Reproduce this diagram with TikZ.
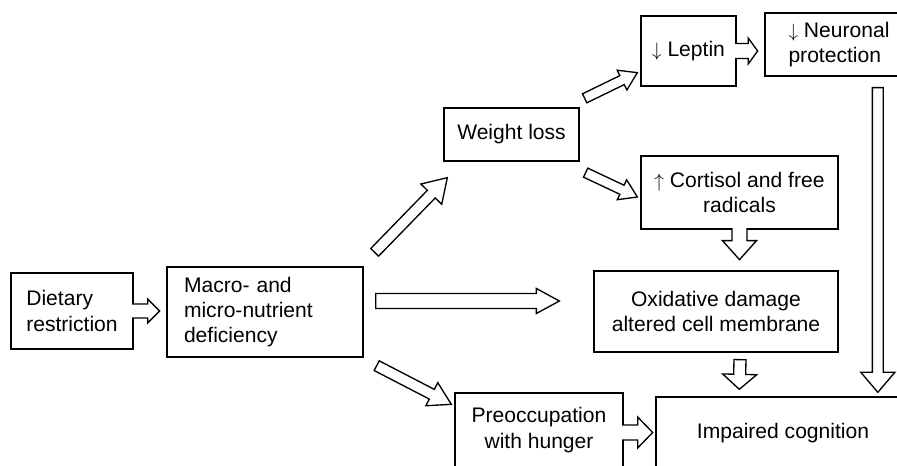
\documentclass[tikz,border=0pt]{standalone}
\usepackage{fontspec}
\setmainfont{Liberation Sans}
\usetikzlibrary{calc}

\newcommand{\boxfont}{\fontsize{15.8}{19}\selectfont}

\tikzset{
	bshaft/.store in=\bShaft,
	bshaft = 4pt,
	bhead/.store in=\bHead,
	bhead = 10pt,
	blen/.store in=\bLen,
	blen = 15pt}
\tikzset{every picture/.style={line width=1pt}}
\tikzset{box/.style={draw, rectangle, inner sep=0pt, font=\boxfont, align=center}}

% block arrow from #2 to #3, closed tail
\newcommand{\blockarrow}[3][]{%
	\begin{scope}[#1]
	\draw [fill=white] ($(#2)!\bShaft!90:(#3)$) -- ($(#3)!\bLen!(#2)!\bShaft!-90:(#2)$) -- ($(#3)!\bLen!(#2)!\bHead!-90:(#2)$) -- (#3) -- ($(#3)!\bLen!(#2)!\bHead!90:(#2)$) -- ($(#3)!\bLen!(#2)!\bShaft!90:(#2)$) -- ($(#2)!\bShaft!-90:(#3)$) -- cycle ;
	\end{scope}}
% block arrow coming out of a box side, open tail
\newcommand{\mergedarrow}[3][]{%
	\begin{scope}[#1]
	\fill [white] ($(#2)!\bShaft!90:(#3)$) -- ($(#3)!\bLen!(#2)!\bShaft!-90:(#2)$) -- ($(#3)!\bLen!(#2)!\bHead!-90:(#2)$) -- (#3) -- ($(#3)!\bLen!(#2)!\bHead!90:(#2)$) -- ($(#3)!\bLen!(#2)!\bShaft!90:(#2)$) -- ($(#2)!\bShaft!-90:(#3)$) -- cycle ;
	\draw ($(#2)!\bShaft!90:(#3)$) -- ($(#3)!\bLen!(#2)!\bShaft!-90:(#2)$) -- ($(#3)!\bLen!(#2)!\bHead!-90:(#2)$) -- (#3) -- ($(#3)!\bLen!(#2)!\bHead!90:(#2)$) -- ($(#3)!\bLen!(#2)!\bShaft!90:(#2)$) -- ($(#2)!\bShaft!-90:(#3)$) ;
	\end{scope}}

\begin{document}
\begin{tikzpicture}[x=0.75pt,y=0.75pt,yscale=-1,xscale=1]
	\useasboundingbox (0,0) rectangle (897,466);
	\clip (0,0) rectangle (897,466);

	% Text Node
	\node [box, align=left, minimum width=91.5pt, minimum height=57pt] (diet) at (72,311) {Dietary\\restriction};
	% Text Node
	\node [box, align=left, text width=121.5pt, inner xsep=12.75pt, minimum height=67.5pt] (macro) at (265,312) {Macro- and\\micro-nutrient\\deficiency};
	% Text Node
	\node [box, minimum width=101.25pt, minimum height=39.75pt] (weight) at (511.5,134.5) {Weight loss};
	% Text Node
	\node [box, minimum width=71.25pt, minimum height=52.5pt] (leptin) at (688.5,51) {$\downarrow$ Leptin};
	% Text Node
	\node [box, align=left, minimum width=111pt, minimum height=47.25pt] (neuro) at (839,44.5) {$\downarrow$ Neuronal\\protection};
	% Text Node
	\node [box, minimum width=147.75pt, minimum height=54.75pt] (cortisol) at (739.5,192.5) {$\uparrow$ Cortisol and free\\radicals};
	% Text Node
	\node [box, minimum width=183pt, minimum height=60.75pt] (oxid) at (716,311.5) {Oxidative damage\\altered cell membrane};
	% Text Node
	\node [box, minimum width=126pt, minimum height=55.5pt] (preocc) at (539,430) {Preoccupation\\with hunger};
	% Text Node
	\node [box, minimum width=190.5pt, minimum height=54pt] (impaired) at (783,433) {Impaired cognition};

	%Shape: Block Arrows
	\mergedarrow[bshaft=5.25pt, bhead=9pt, blen=9pt]{$(diet.east)+(-1.5,0)$}{$(diet.east)+(26,0)$}
	\blockarrow[bshaft=4.1pt, bhead=10.9pt, blen=17.25pt]{$(macro.north east)+(11,-14)$}{$(weight.south west)+(4,16)$}
	\blockarrow[bshaft=5.6pt, bhead=9.4pt, blen=17.25pt]{$(macro.east)+(12,-11)$}{$(oxid.west)+(-34,-10.5)$}
	\blockarrow[bshaft=4.1pt, bhead=9.75pt, blen=16.5pt]{$(macro.south east)+(13,8)$}{$(preocc.north west)+(-3,12)$}
	\blockarrow[bshaft=3.75pt, bhead=8.25pt, blen=12.75pt]{$(weight.north east)+(5,-9)$}{$(leptin.south west)+(-3,-14)$}
	\blockarrow[bshaft=3.75pt, bhead=8.25pt, blen=12.75pt]{$(weight.south east)+(6,11)$}{$(cortisol.west)+(-3,4.5)$}
	\mergedarrow[bshaft=5.6pt, bhead=9.75pt, blen=7.1pt]{$(leptin.east)+(-1.5,0)$}{$(leptin.east)+(21,0)$}
	\mergedarrow[bshaft=5.6pt, bhead=12.75pt, blen=14.25pt]{$(cortisol.south)+(0,-1.5)$}{$(cortisol.south)+(0,30)$}
	\blockarrow[bshaft=4.1pt, bhead=12.75pt, blen=15pt]{$(neuro.south west)+(113.5,11)$}{$(impaired.north west)+(222.5,-4)$}
	\blockarrow[bshaft=4.5pt, bhead=12.75pt, blen=11.25pt]{$(oxid.south)+(24,7)$}{$(impaired.north west)+(84,-7)$}
	\mergedarrow[bshaft=5.6pt, bhead=11.6pt, blen=11.25pt]{$(preocc.east)+(-1.5,2.5)$}{$(preocc.east)+(29,2.5)$}

\end{tikzpicture}
\end{document}
